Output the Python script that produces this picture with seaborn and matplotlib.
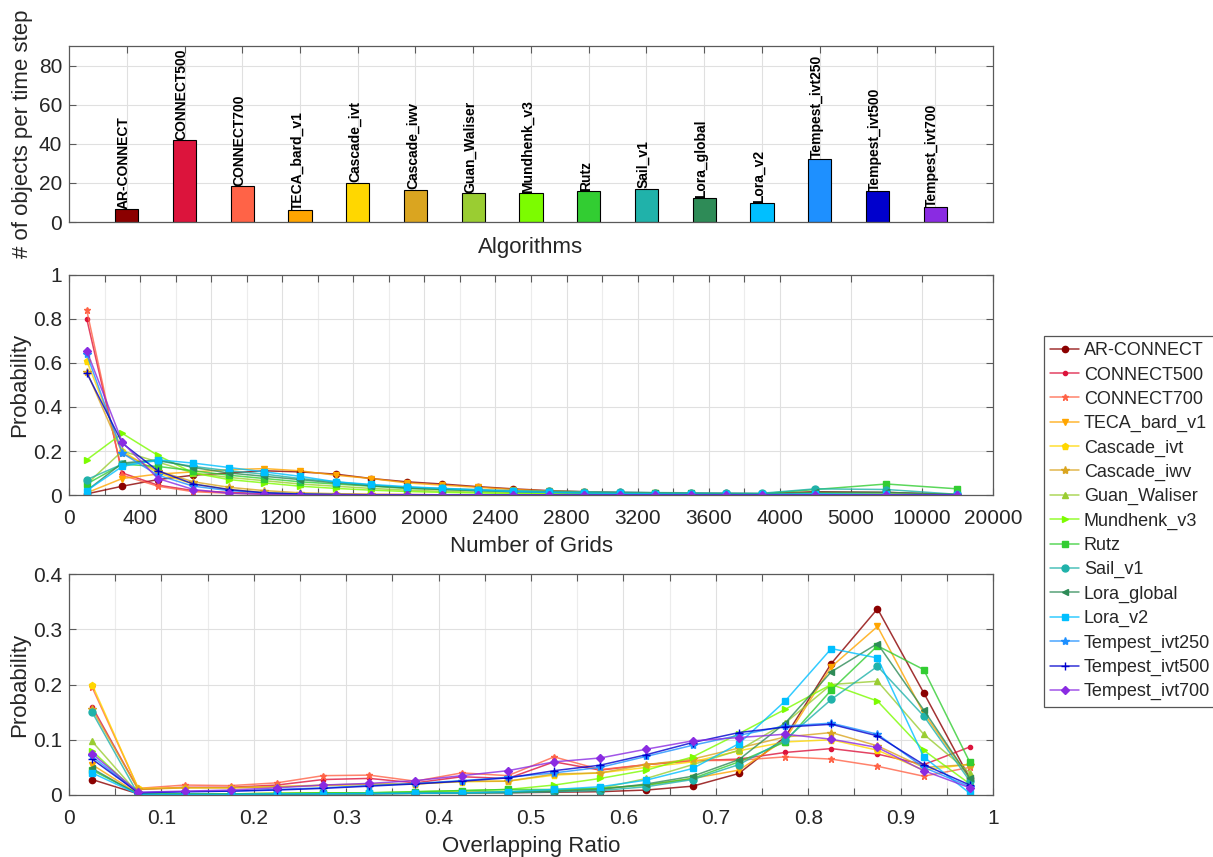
import numpy as np
import pandas as pd
import matplotlib
matplotlib.use("Agg")
import matplotlib.pyplot as plt
import matplotlib.ticker as mticker
from matplotlib.colors import to_rgba
import seaborn as sns

sns.set_theme(style="white")
plt.rcParams["font.family"] = ["Liberation Sans", "DejaVu Sans"]

ALGOS = ["AR-CONNECT", "CONNECT500", "CONNECT700", "TECA_bard_v1", "Cascade_ivt",
         "Cascade_iwv", "Guan_Waliser", "Mundhenk_v3", "Rutz", "Sail_v1",
         "Lora_global", "Lora_v2", "Tempest_ivt250", "Tempest_ivt500", "Tempest_ivt700"]
COLORS = ["#8B0000", "#DC143C", "#FF6347", "#FFA500", "#FFD700", "#DAA520", "#9ACD32",
          "#7CFC00", "#32CD32", "#20B2AA", "#2E8B57", "#00BFFF", "#1E90FF", "#0000CD",
          "#8A2BE2"]
MARKERS = ["o", "o", "*", "v", "p", "*", "^", ">", "s", "o", "<", "s", "*", "+", "D"]
MSIZES = [4.5, 3, 4.5, 5, 5, 6, 5, 5, 4, 5, 5, 4, 6, 6, 4]

# objects per time step
COUNTS = [6.4, 41.8, 18.2, 6.0, 20.1, 16.6, 14.6, 14.6, 15.6, 17.1, 12.1, 9.6, 32.2, 15.6, 7.5]

# size distribution (number of grids)
GRID_TICKS = [0, 400, 800, 1200, 1600, 2000, 2400, 2800, 3200, 3600, 4000, 5000, 10000, 20000]
GRID_MINOR = [200, 600, 1000, 1400, 1800, 2200, 2600, 3000, 3400, 3800]
GRID_CENTERS = [100, 300, 500, 700, 900, 1100, 1300, 1500, 1700, 1900, 2100, 2300, 2500,
                2700, 2900, 3100, 3300, 3500, 3700, 3900, 4500, 7500, 15000]
SIZE_PROB = {
    "AR-CONNECT": [0.005, 0.040, 0.070, 0.090, 0.100, 0.110, 0.105, 0.095, 0.075, 0.060, 0.050, 0.038,
                   0.028, 0.020, 0.015, 0.012, 0.010, 0.008, 0.007, 0.006, 0.015, 0.012, 0.002],
    "CONNECT500": [0.800, 0.100, 0.045, 0.020, 0.012, 0.007, 0.004, 0.003, 0.002, 0.002, 0.001, 0.001,
                   0.001, 0.001, 0.000, 0.000, 0.000, 0.000, 0.000, 0.000, 0.000, 0.000, 0.000],
    "CONNECT700": [0.840, 0.090, 0.040, 0.015, 0.008, 0.004, 0.002, 0.001, 0.001, 0.000, 0.000, 0.000,
                   0.000, 0.000, 0.000, 0.000, 0.000, 0.000, 0.000, 0.000, 0.000, 0.000, 0.000],
    "TECA_bard_v1": [0.010, 0.075, 0.095, 0.105, 0.115, 0.120, 0.110, 0.090, 0.075, 0.055, 0.045, 0.035,
                     0.025, 0.018, 0.014, 0.010, 0.008, 0.006, 0.005, 0.004, 0.010, 0.008, 0.001],
    "Cascade_ivt": [0.610, 0.200, 0.100, 0.050, 0.025, 0.012, 0.006, 0.003, 0.002, 0.001, 0.001, 0.000,
                    0.000, 0.000, 0.000, 0.000, 0.000, 0.000, 0.000, 0.000, 0.000, 0.000, 0.000],
    "Cascade_iwv": [0.560, 0.190, 0.110, 0.060, 0.035, 0.020, 0.010, 0.006, 0.003, 0.002, 0.001, 0.001,
                    0.000, 0.000, 0.000, 0.000, 0.000, 0.000, 0.000, 0.000, 0.000, 0.000, 0.000],
    "Guan_Waliser": [0.050, 0.200, 0.150, 0.100, 0.080, 0.065, 0.050, 0.040, 0.030, 0.022, 0.017, 0.013,
                     0.010, 0.008, 0.006, 0.005, 0.004, 0.003, 0.003, 0.002, 0.006, 0.004, 0.000],
    "Mundhenk_v3": [0.160, 0.280, 0.180, 0.100, 0.070, 0.055, 0.040, 0.030, 0.022, 0.016, 0.012, 0.009,
                    0.007, 0.005, 0.004, 0.003, 0.003, 0.002, 0.002, 0.002, 0.004, 0.002, 0.000],
    "Rutz": [0.050, 0.140, 0.130, 0.110, 0.090, 0.075, 0.060, 0.050, 0.040, 0.030, 0.025, 0.020,
             0.016, 0.013, 0.011, 0.009, 0.008, 0.007, 0.006, 0.006, 0.025, 0.050, 0.028],
    "Sail_v1": [0.070, 0.140, 0.155, 0.130, 0.110, 0.095, 0.075, 0.060, 0.045, 0.035, 0.030, 0.025,
                0.020, 0.017, 0.015, 0.013, 0.011, 0.010, 0.009, 0.008, 0.028, 0.025, 0.003],
    "Lora_global": [0.020, 0.145, 0.160, 0.125, 0.100, 0.085, 0.070, 0.055, 0.042, 0.032, 0.025, 0.020,
                    0.015, 0.012, 0.010, 0.008, 0.007, 0.006, 0.005, 0.004, 0.012, 0.012, 0.002],
    "Lora_v2": [0.020, 0.130, 0.160, 0.145, 0.125, 0.105, 0.085, 0.060, 0.048, 0.038, 0.030, 0.022,
                0.016, 0.012, 0.009, 0.007, 0.005, 0.004, 0.003, 0.003, 0.006, 0.003, 0.000],
    "Tempest_ivt250": [0.640, 0.190, 0.090, 0.040, 0.020, 0.010, 0.005, 0.002, 0.001, 0.001, 0.000, 0.000,
                       0.000, 0.000, 0.000, 0.000, 0.000, 0.000, 0.000, 0.000, 0.000, 0.000, 0.000],
    "Tempest_ivt500": [0.555, 0.235, 0.110, 0.050, 0.025, 0.010, 0.004, 0.002, 0.001, 0.001, 0.000, 0.000,
                       0.000, 0.000, 0.000, 0.000, 0.000, 0.000, 0.000, 0.000, 0.000, 0.000, 0.000],
    "Tempest_ivt700": [0.655, 0.240, 0.075, 0.025, 0.008, 0.003, 0.001, 0.000, 0.000, 0.000, 0.000, 0.000,
                       0.000, 0.000, 0.000, 0.000, 0.000, 0.000, 0.000, 0.000, 0.000, 0.000, 0.000],
}

# overlapping ratio distribution
RATIO_CENTERS = [0.025, 0.075, 0.125, 0.175, 0.225, 0.275, 0.325, 0.375, 0.425, 0.475,
                 0.525, 0.575, 0.625, 0.675, 0.725, 0.775, 0.825, 0.875, 0.925, 0.975]
RATIO_PROB = {
    "AR-CONNECT": [0.028, 0.002, 0.002, 0.002, 0.002, 0.003, 0.003, 0.003, 0.004, 0.004,
                   0.005, 0.006, 0.009, 0.016, 0.039, 0.105, 0.238, 0.337, 0.185, 0.030],
    "CONNECT500": [0.160, 0.010, 0.014, 0.014, 0.018, 0.028, 0.030, 0.022, 0.033, 0.030,
                   0.060, 0.045, 0.055, 0.062, 0.065, 0.077, 0.084, 0.074, 0.055, 0.087],
    "CONNECT700": [0.195, 0.012, 0.018, 0.017, 0.022, 0.035, 0.036, 0.025, 0.040, 0.035,
                   0.069, 0.046, 0.055, 0.062, 0.063, 0.069, 0.065, 0.052, 0.034, 0.050],
    "TECA_bard_v1": [0.055, 0.002, 0.002, 0.002, 0.003, 0.003, 0.003, 0.004, 0.005, 0.006,
                     0.008, 0.012, 0.018, 0.030, 0.045, 0.100, 0.232, 0.305, 0.148, 0.030],
    "Cascade_ivt": [0.200, 0.012, 0.013, 0.013, 0.015, 0.017, 0.019, 0.020, 0.024, 0.025,
                    0.036, 0.040, 0.050, 0.060, 0.080, 0.096, 0.100, 0.081, 0.045, 0.056],
    "Cascade_iwv": [0.155, 0.010, 0.013, 0.013, 0.015, 0.018, 0.020, 0.020, 0.025, 0.025,
                    0.038, 0.040, 0.055, 0.065, 0.085, 0.105, 0.113, 0.089, 0.050, 0.055],
    "Guan_Waliser": [0.097, 0.002, 0.002, 0.002, 0.002, 0.003, 0.003, 0.004, 0.005, 0.006,
                     0.008, 0.012, 0.030, 0.055, 0.081, 0.130, 0.200, 0.206, 0.110, 0.040],
    "Mundhenk_v3": [0.080, 0.002, 0.002, 0.002, 0.003, 0.004, 0.004, 0.006, 0.008, 0.010,
                    0.018, 0.030, 0.045, 0.069, 0.111, 0.155, 0.200, 0.170, 0.081, 0.020],
    "Rutz": [0.045, 0.002, 0.002, 0.002, 0.003, 0.004, 0.004, 0.006, 0.008, 0.010,
             0.010, 0.012, 0.018, 0.030, 0.060, 0.096, 0.190, 0.270, 0.227, 0.059],
    "Sail_v1": [0.150, 0.001, 0.001, 0.001, 0.001, 0.002, 0.002, 0.003, 0.003, 0.004,
                0.006, 0.008, 0.015, 0.028, 0.055, 0.100, 0.173, 0.233, 0.143, 0.025],
    "Lora_global": [0.048, 0.001, 0.001, 0.001, 0.001, 0.002, 0.002, 0.003, 0.004, 0.005,
                    0.007, 0.010, 0.020, 0.034, 0.064, 0.130, 0.223, 0.274, 0.154, 0.030],
    "Lora_v2": [0.040, 0.001, 0.001, 0.001, 0.002, 0.002, 0.003, 0.003, 0.004, 0.006,
                0.010, 0.015, 0.027, 0.048, 0.093, 0.170, 0.265, 0.248, 0.069, 0.003],
    "Tempest_ivt250": [0.070, 0.004, 0.006, 0.007, 0.010, 0.013, 0.017, 0.021, 0.026, 0.032,
                       0.040, 0.050, 0.070, 0.090, 0.108, 0.125, 0.130, 0.110, 0.050, 0.015],
    "Tempest_ivt500": [0.065, 0.004, 0.006, 0.007, 0.009, 0.012, 0.016, 0.020, 0.025, 0.031,
                       0.044, 0.054, 0.073, 0.095, 0.113, 0.123, 0.128, 0.107, 0.055, 0.018],
    "Tempest_ivt700": [0.075, 0.005, 0.007, 0.009, 0.013, 0.018, 0.021, 0.026, 0.035, 0.044,
                       0.060, 0.067, 0.083, 0.098, 0.104, 0.110, 0.101, 0.086, 0.044, 0.013],
}

TXT = "#262626"
SPINE = "#5a5a5a"
GRID_MAJ = "#e0e0e0"
GRID_MIN = "#ececec"
TICK_FS = 15
LABEL_FS = 16


def grid_pos(vals):
    # piecewise-linear axis: 0..4000 evenly, then 5000, 10000, 20000 as equal steps
    return np.interp(vals, GRID_TICKS, np.arange(len(GRID_TICKS)))


def style_axes(ax):
    for sp in ax.spines.values():
        sp.set_color(SPINE)
        sp.set_linewidth(0.9)
        sp.set_visible(True)
    ax.tick_params(which="both", direction="in", top=True, right=True, bottom=True, left=True,
                   color=SPINE, labelcolor=TXT, labelsize=TICK_FS, length=5, width=0.8)
    ax.tick_params(axis="x", which="both", pad=10)
    ax.tick_params(axis="y", which="both", pad=5)
    ax.set_axisbelow(True)


fig = plt.figure(figsize=(12.13, 8.57), dpi=100)
L, W = 69 / 1213, 924 / 1213
ax1 = fig.add_axes([L, 1 - 222 / 857, W, 176 / 857])
ax2 = fig.add_axes([L, 1 - 495 / 857, W, 220 / 857])
ax3 = fig.add_axes([L, 1 - 795 / 857, W, 221 / 857])

# --- panel 1: objects per time step
bars = pd.DataFrame({"algo": ALGOS, "count": COUNTS})
sns.barplot(data=bars, x="algo", y="count", hue="algo", palette=COLORS, legend=False,
            width=0.4, edgecolor="black", linewidth=0.8, saturation=1, ax=ax1)
for i, (name, v) in enumerate(zip(ALGOS, COUNTS)):
    ax1.text(i - 0.05, v + 0.3, name, rotation=90, ha="center", va="bottom", fontsize=10,
             fontweight="bold", color="black")
ax1.set_xlim(-1, len(ALGOS))
ax1.set_ylim(0, 90)
ax1.set_yticks([0, 20, 40, 60, 80])
ax1.set_xticks(range(len(ALGOS)))
ax1.set_xticklabels([])
ax1.grid(True, color=GRID_MAJ, linewidth=0.8)
style_axes(ax1)
ax1.tick_params(axis="x", pad=0)
ax1.set_xlabel("Algorithms", fontsize=LABEL_FS, color=TXT, labelpad=11)
ax1.set_ylabel("# of objects per time step", fontsize=LABEL_FS, color=TXT, labelpad=4)

# --- panel 2: size distribution
xg = grid_pos(GRID_CENTERS)
for name, c, m, ms in zip(ALGOS, COLORS, MARKERS, MSIZES):
    sns.lineplot(x=xg, y=SIZE_PROB[name], ax=ax2, color=c, marker=m, markersize=ms,
                 markeredgecolor=c, markerfacecolor=c, markeredgewidth=1, linewidth=1.1,
                 label=name, estimator=None, sort=False)
    ax2.lines[-1].set_color(to_rgba(c, 0.8))
ax2.set_xlim(0, len(GRID_TICKS) - 1)
ax2.set_ylim(0, 1)
ax2.set_xticks(np.arange(len(GRID_TICKS)))
ax2.set_xticklabels([str(t) for t in GRID_TICKS])
ax2.set_xticks(grid_pos(GRID_MINOR), minor=True)
ax2.set_yticks([0, 0.2, 0.4, 0.6, 0.8, 1])
ax2.yaxis.set_major_formatter(mticker.FuncFormatter(lambda v, p: f"{v:g}"))
ax2.grid(True, which="major", color=GRID_MAJ, linewidth=0.8)
ax2.grid(True, which="minor", axis="x", color=GRID_MIN, linewidth=0.8)
style_axes(ax2)
ax2.set_xlabel("Number of Grids", fontsize=LABEL_FS, color=TXT, labelpad=6)
ax2.set_ylabel("Probability", fontsize=LABEL_FS, color=TXT, labelpad=2)
handles, labels = ax2.get_legend_handles_labels()
ax2.get_legend().remove()

# --- panel 3: overlapping ratio
for name, c, m, ms in zip(ALGOS, COLORS, MARKERS, MSIZES):
    sns.lineplot(x=RATIO_CENTERS, y=RATIO_PROB[name], ax=ax3, color=c, marker=m, markersize=ms,
                 markeredgecolor=c, markerfacecolor=c, markeredgewidth=1, linewidth=1.1,
                 estimator=None, sort=False)
    ax3.lines[-1].set_color(to_rgba(c, 0.8))
ax3.set_xlim(0, 1)
ax3.set_ylim(0, 0.4)
ax3.set_xticks(np.arange(0, 1.01, 0.1))
ax3.set_xticks(np.arange(0.05, 1.0, 0.1), minor=True)
ax3.set_yticks([0, 0.1, 0.2, 0.3, 0.4])
ax3.xaxis.set_major_formatter(mticker.FuncFormatter(lambda v, p: f"{v:.1f}".rstrip("0").rstrip(".") if v not in (0, 1) else f"{int(v)}"))
ax3.yaxis.set_major_formatter(mticker.FuncFormatter(lambda v, p: "0" if v == 0 else f"{v:.1f}"))
ax3.grid(True, which="major", color=GRID_MAJ, linewidth=0.8)
ax3.grid(True, which="minor", axis="x", color=GRID_MIN, linewidth=0.8)
style_axes(ax3)
ax3.set_xlabel("Overlapping Ratio", fontsize=LABEL_FS, color=TXT, labelpad=6)
ax3.set_ylabel("Probability", fontsize=LABEL_FS, color=TXT, labelpad=2)

leg = fig.legend(handles, labels, loc="upper left", bbox_to_anchor=(1044 / 1213, 1 - 336 / 857),
                 borderaxespad=0, fontsize=13, frameon=True, fancybox=False, framealpha=1,
                 edgecolor="#555555", handlelength=1.6, handletextpad=0.25, labelspacing=0.4,
                 borderpad=0.35)
leg.get_frame().set_linewidth(0.9)

fig.savefig("out.png", dpi=100)
